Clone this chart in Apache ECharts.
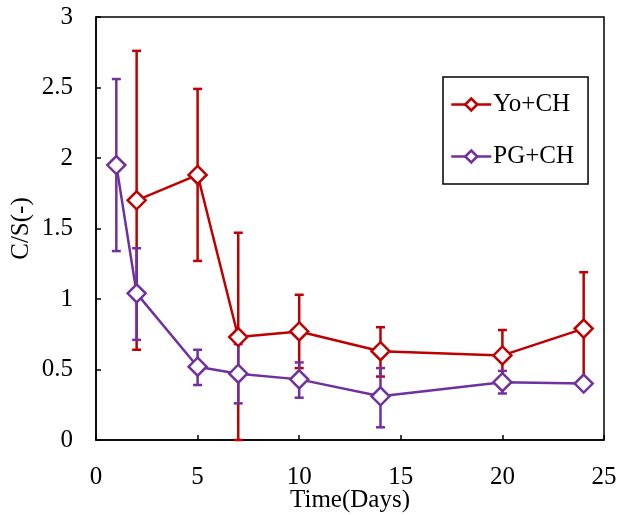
<!DOCTYPE html>
<html>
<head>
<meta charset="utf-8">
<script src="https://cdn.jsdelivr.net/npm/echarts@6/dist/echarts.min.js"></script>
<style>
  html, body { margin: 0; padding: 0; background: #fff; }
  #chart { width: 617px; height: 515px; }
</style>
</head>
<body>
<div id="chart"></div>
<script>
// Sampling days for each treatment
const yoDays = [2, 5, 7, 10, 14, 20, 24];
const pgDays = [1, 2, 5, 7, 10, 14, 20, 24];

// Yo+CH: mean C/S ratio with lower / upper error limits
const yoMean = [1.70, 1.88, 0.73, 0.77, 0.63, 0.60, 0.79];
const yoLow  = [0.64, 1.27, 0.00, 0.51, 0.45, 0.42, 0.39];
const yoHigh = [2.76, 2.49, 1.47, 1.03, 0.80, 0.78, 1.19];

// PG+CH: mean C/S ratio with lower / upper error limits
const pgMean = [1.95, 1.04, 0.52, 0.47, 0.43, 0.31, 0.41, 0.40];
const pgLow  = [1.34, 0.71, 0.39, 0.26, 0.30, 0.09, 0.33, 0.40];
const pgHigh = [2.56, 1.36, 0.64, 0.68, 0.55, 0.51, 0.49, 0.40];

const seriesNames = ['Yo+CH', 'PG+CH'];
const RED = '#C00000';
const PURPLE = '#7030A0';
const FONT = '"Liberation Serif", "Times New Roman", serif';

const pairs = (xs, ys) => xs.map((x, i) => [x, ys[i]]);
const bars = (xs, lo, hi) => xs.map((x, i) => [x, lo[i], hi[i]]);

function errorBar(color) {
  return function (params, api) {
    const x = api.value(0);
    const lo = api.coord([x, api.value(1)]);
    const hi = api.coord([x, api.value(2)]);
    const w = 4.5;
    const style = { stroke: color, lineWidth: 2.5 };
    return {
      type: 'group',
      children: [
        { type: 'line', shape: { x1: lo[0], y1: lo[1], x2: hi[0], y2: hi[1] }, style },
        { type: 'line', shape: { x1: hi[0] - w, y1: hi[1], x2: hi[0] + w, y2: hi[1] }, style },
        { type: 'line', shape: { x1: lo[0] - w, y1: lo[1], x2: lo[0] + w, y2: lo[1] }, style }
      ]
    };
  };
}

function lineSeries(name, color, data) {
  return {
    name, type: 'line', data, z: 5,
    symbol: 'diamond', symbolSize: [18, 18],
    lineStyle: { color, width: 2.5 },
    itemStyle: { color: '#fff', borderColor: color, borderWidth: 2.5 },
    emphasis: { disabled: true },
    animation: false
  };
}

const chart = echarts.init(document.getElementById('chart'), null, { renderer: 'canvas' });
chart.setOption({
  backgroundColor: '#fff',
  animation: false,
  grid: {
    left: 96, right: 13, top: 17, bottom: 75,
    containLabel: false, outerBoundsMode: 'none',
    show: true, borderColor: '#000', borderWidth: 1.5, backgroundColor: 'transparent'
  },
  legend: {
    data: seriesNames,
    orient: 'vertical',
    left: 443, top: 77,
    padding: [15, 14, 15, 7],
    itemGap: 27,
    itemWidth: 40, itemHeight: 15,
    lineStyle: { width: 2.5 },
    itemStyle: { borderWidth: 2.5 },
    borderColor: '#000', borderWidth: 1.5,
    backgroundColor: '#fff',
    textStyle: { fontFamily: FONT, fontSize: 25, color: '#000', padding: [0, 0, 0, -3] }
  },
  xAxis: {
    type: 'value', min: 0, max: 25, interval: 5,
    name: 'Time(Days)', nameLocation: 'middle', nameGap: 48, nameMoveOverlap: false,
    nameTextStyle: { fontFamily: FONT, fontSize: 25, color: '#000' },
    axisLine: { lineStyle: { color: '#000', width: 1.5 } },
    axisTick: { inside: true, length: 5, lineStyle: { color: '#000', width: 1.5 } },
    axisLabel: { fontFamily: FONT, fontSize: 25, color: '#000', margin: 25 },
    splitLine: { show: false }
  },
  yAxis: {
    type: 'value', min: 0, max: 3, interval: 0.5,
    name: 'C/S(-)', nameLocation: 'middle', nameGap: 62, nameMoveOverlap: false,
    nameTextStyle: { fontFamily: FONT, fontSize: 25, color: '#000' },
    axisLine: { lineStyle: { color: '#000', width: 1.5 } },
    axisTick: { inside: true, length: 5, lineStyle: { color: '#000', width: 1.5 } },
    axisLabel: { fontFamily: FONT, fontSize: 25, color: '#000', margin: 23 },
    splitLine: { show: false }
  },
  series: [
    {
      type: 'custom', name: 'Yo+CH error', data: bars(yoDays, yoLow, yoHigh),
      renderItem: errorBar(RED), z: 2, silent: true
    },
    {
      type: 'custom', name: 'PG+CH error', data: bars(pgDays, pgLow, pgHigh),
      renderItem: errorBar(PURPLE), z: 3, silent: true
    },
    lineSeries('PG+CH', PURPLE, pairs(pgDays, pgMean)),
    lineSeries('Yo+CH', RED, pairs(yoDays, yoMean))
  ]
});
</script>
</body>
</html>
